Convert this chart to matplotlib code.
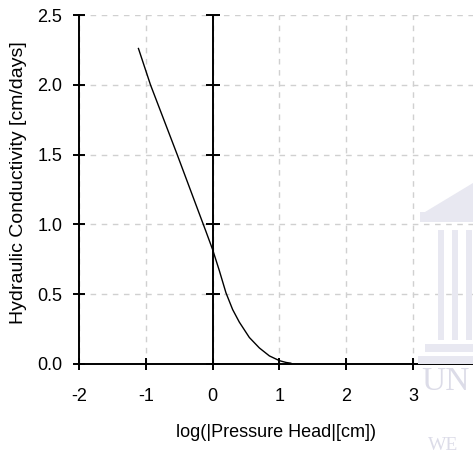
import matplotlib
matplotlib.use("Agg")
import matplotlib.pyplot as plt
from matplotlib.patches import Rectangle, Polygon

plt.rcParams['font.family'] = ["Liberation Sans", "DejaVu Sans"]
plt.rcParams['axes.unicode_minus'] = False

# Data
log_head = [-1.11, -0.93, -0.73, -0.53, -0.28, -0.10, 0.0, 0.10, 0.20, 0.30,
            0.40, 0.55, 0.70, 0.85, 1.00, 1.10, 1.17]
conductivity = [2.26, 2.0, 1.75, 1.5, 1.18, 0.95, 0.82, 0.67, 0.51, 0.39,
                0.30, 0.19, 0.115, 0.058, 0.024, 0.011, 0.006]
x_ticks = [-2, -1, 0, 1, 2, 3]
y_ticks = [0.0, 0.5, 1.0, 1.5, 2.0, 2.5]
y_tick_labels = ["0.0", "0.5", "1.0", "1.5", "2.0", "2.5"]

fig = plt.figure(figsize=(4.73, 4.54), dpi=100)

# faint watermark (university logo) in the background
wm = "#e8e8f1"
def frect(x, y, w, h):
    return Rectangle((x/473, 1-(y+h)/454), w/473, h/454, transform=fig.transFigure,
                     facecolor=wm, edgecolor="none", zorder=0)
fig.patches.extend([
    Polygon([(425/473, 1-212/454), (473/473, 1-183/454), (473/473, 1-212/454)],
            closed=True, transform=fig.transFigure, facecolor=wm, edgecolor="none", zorder=0),
    frect(420, 212, 53, 10),
    frect(438, 230, 6, 110),
    frect(452, 230, 6, 110),
    frect(466, 230, 6, 110),
    frect(425, 344, 48, 8),
    frect(418, 356, 55, 8),
])

ax = fig.add_axes([79/473, 90/454, (473-79)/473, (364-15)/454])
ax.patch.set_alpha(0)
ax.set_xlim(-2, (473-79)/66.8 - 2)
ax.set_ylim(0, 2.5)

for s in ["top", "right"]:
    ax.spines[s].set_visible(False)
for s in ["left", "bottom"]:
    ax.spines[s].set_linewidth(1.4)
    ax.spines[s].set_color("black")

ax.set_xticks(x_ticks)
ax.set_yticks(y_ticks)
ax.set_yticklabels(y_tick_labels)
ax.tick_params(direction="inout", length=8, width=1.4, labelsize=13, colors="black")
ax.tick_params(axis="y", pad=8)
ax.tick_params(axis="x", pad=13)
ax.grid(True, linestyle=(0, (4, 4)), color="#d0d0d0", linewidth=1)
ax.set_axisbelow(True)

ax.axvline(0, color="black", linewidth=1.4, zorder=2)
ax.plot([0]*len(y_ticks), y_ticks, linestyle="none", marker="_", markersize=10,
        markeredgewidth=1.4, color="black", zorder=3, clip_on=False)

ax.plot(log_head, conductivity, color="black", linewidth=1.0, zorder=4)

ax.set_xlabel("log(|Pressure Head|[cm])", fontsize=13, labelpad=14)
ax.set_ylabel("Hydraulic Conductivity [cm/days]", fontsize=14)
ax.yaxis.set_label_coords(-52/394, 0.52)

fig.text(421/473, 1 - 382/454, "UN", fontsize=24, color="#dcdce8",
         family="Liberation Serif", va="center", ha="left")
fig.text(428/473, 1 - 445/454, "WE", fontsize=14, color="#dcdce8",
         family="Liberation Serif", va="center", ha="left")

fig.savefig("out.png", dpi=100)
